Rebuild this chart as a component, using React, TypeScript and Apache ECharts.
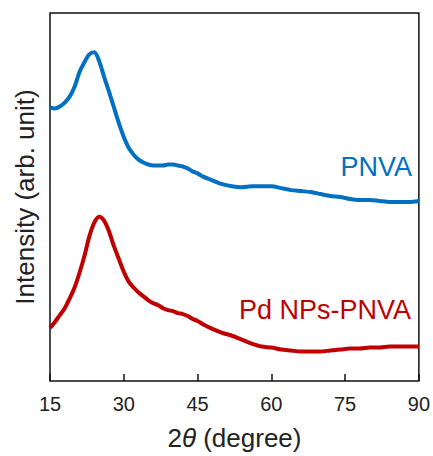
import React, { useEffect, useRef } from "react";
import * as echarts from "echarts";

// 2θ positions (degree) at which the curves were read
const angles = [
  15, 16, 17, 18, 19, 20, 21, 22, 23, 24, 25, 26, 27, 28, 29, 30, 31, 32, 33, 34,
  35, 36, 37, 38, 39, 40, 41, 42, 43, 44, 45, 46, 48, 50, 52, 54, 56, 58, 60, 62,
  64, 66, 68, 70, 72, 74, 76, 78, 80, 82, 84, 86, 88, 90,
];

// Intensity (arb. unit), offset stacked as in the figure
const pnva = [
  278, 277, 279, 283, 289, 299, 314, 324, 332, 334, 325, 309, 294, 278, 262, 248, 237, 230, 225, 222,
  220, 219, 219, 219, 220, 220, 219, 218, 216, 213, 211, 208, 204, 200, 198, 197, 198, 198, 198, 196,
  194, 193, 192, 190, 188, 187, 185, 184, 184, 183, 182, 182, 182, 183,
];

const pdPnva = [
  54, 60, 67, 74, 84, 95, 110, 127, 147, 161, 167, 163, 152, 137, 124, 111, 101, 95, 90, 86,
  82, 79, 77, 74, 72, 71, 69, 68, 66, 63, 61, 58, 53, 49, 46, 42, 38, 35, 34, 32,
  31, 30, 30, 30, 31, 32, 33, 33, 34, 34, 35, 35, 35, 35,
];

const xTicks = { min: 15, max: 90, interval: 15 };
const yRange = { min: 0, max: 374 };

const seriesNames = ["PNVA", "Pd NPs-PNVA"];
const seriesColors = ["#0070C0", "#C00000"];

export default function App() {
  const ref = useRef<HTMLDivElement>(null);

  useEffect(() => {
    if (!ref.current) return;
    const chart = echarts.init(ref.current, null, { renderer: "svg" });
    const font = "Arial, 'Liberation Sans', sans-serif";
    chart.setOption({
      animation: false,
      backgroundColor: "#fff",
      textStyle: { fontFamily: font },
      grid: {
        left: 50,
        right: 11,
        top: 13,
        bottom: 69,
        show: true,
        borderColor: "#111",
        borderWidth: 1.5,
        backgroundColor: "transparent",
      },
      xAxis: {
        type: "value",
        min: xTicks.min,
        max: xTicks.max,
        interval: xTicks.interval,
        axisLine: { show: false },
        axisTick: { show: true, inside: true, length: 7, lineStyle: { color: "#111", width: 1.5 } },
        splitLine: { show: false },
        axisLabel: { color: "#222", fontSize: 20, margin: 13, fontFamily: font },
        name: "{n|2}{i|θ}{n| (degree)}",
        nameLocation: "middle",
        nameGap: 44,
        nameTextStyle: {
          rich: {
            n: { fontSize: 26, color: "#222", fontFamily: font },
            i: { fontSize: 26, color: "#222", fontStyle: "italic", fontFamily: font },
          },
        },
      },
      yAxis: {
        type: "value",
        min: yRange.min,
        max: yRange.max,
        axisLine: { show: false },
        axisTick: { show: false },
        axisLabel: { show: false },
        splitLine: { show: false },
        name: "Intensity (arb. unit)",
        nameLocation: "middle",
        nameGap: 12,
        nameTextStyle: { fontSize: 26, color: "#222", fontFamily: font },
      },
      series: [
        {
          name: seriesNames[0],
          type: "line",
          data: angles.map((a, i) => [a, pnva[i]]),
          showSymbol: false,
          smooth: 0.3,
          lineStyle: { color: seriesColors[0], width: 4 },
        },
        {
          name: seriesNames[1],
          type: "line",
          data: angles.map((a, i) => [a, pdPnva[i]]),
          showSymbol: false,
          smooth: 0.3,
          lineStyle: { color: seriesColors[1], width: 4 },
        },
      ],
      graphic: [
        {
          type: "text",
          right: 21,
          top: 153,
          style: { text: seriesNames[0], fontSize: 27, fill: seriesColors[0], fontFamily: font },
        },
        {
          type: "text",
          right: 22,
          top: 296,
          style: { text: seriesNames[1], fontSize: 27, fill: seriesColors[1], fontFamily: font },
        },
      ],
    });
    return () => chart.dispose();
  }, []);

  return (
    <div
      ref={ref}
      style={{ position: "fixed", left: 0, top: 0, width: 433, height: 456 }}
    />
  );
}
